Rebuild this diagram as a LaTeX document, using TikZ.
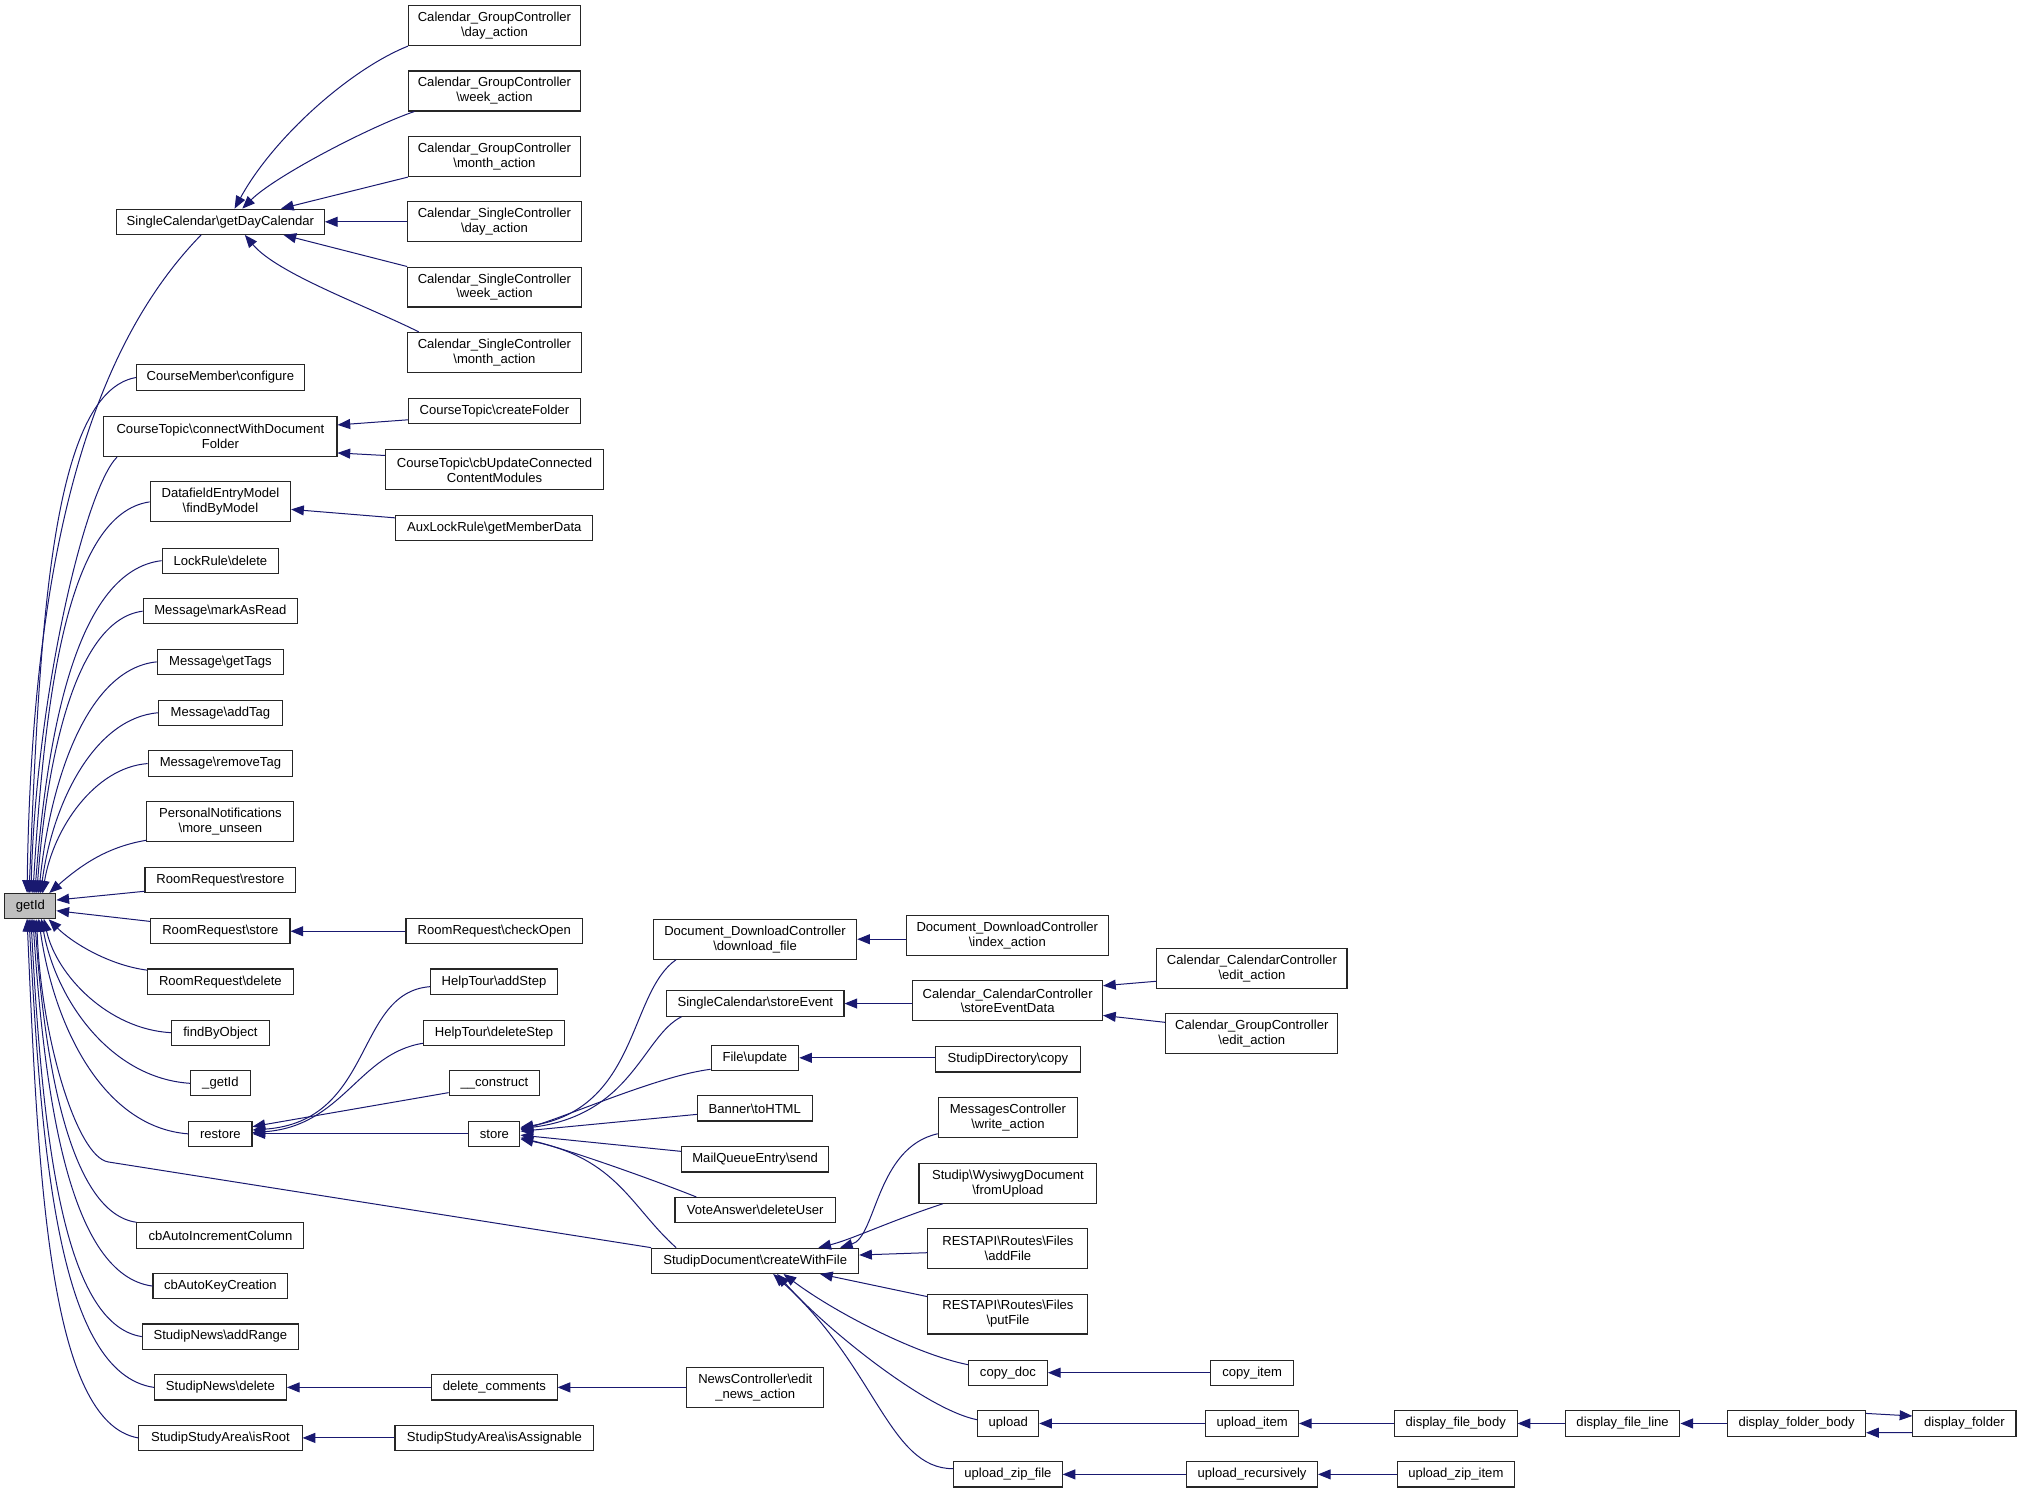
\documentclass[tikz,border=0pt]{standalone}
\usepackage{fontspec}
\setmainfont{Liberation Sans}
\usetikzlibrary{arrows.meta,calc}
\definecolor{callblue}{HTML}{191970}
\tikzset{
  fn/.style={draw=black!85, line width=0.8pt, fill=white, inner sep=0pt,
    align=center, font=\fontsize{9.8}{11.2}\selectfont},
  call/.style={->, draw=callblue, line width=0.75pt},
}

\begin{document}
\begin{tikzpicture}[x=0.9667pt,y=0.9667pt,>={Triangle[length=9.5pt,width=7.5pt]}]
\def\un{0.9667pt}
\useasboundingbox (0,0) rectangle (1568,-1158);
\fill[white] (0,0) rectangle (1568,-1158);
% ================= the called function =================
\node[fn, fill=black!25, minimum width=39.5*\un, minimum height=19.6*\un] (getId) at (23.6,-703) {getId};
% ================= direct callers, plain curve into getId =================
\foreach \nm/\yy/\w/\h/\ex/\txt in {
  cmc/292.9/130.4/19.6/22.5/CourseMember\textbackslash configure,
  dfm/389.4/109/31/25.5/DatafieldEntryModel\\\textbackslash findByModel,
  lrd/435/90.5/19.6/27/LockRule\textbackslash delete,
  mmr/474.2/120/19.6/28.5/Message\textbackslash markAsRead,
  mgt/513.5/98/19.6/30/Message\textbackslash getTags,
  mat/553/96/19.6/31.5/Message\textbackslash addTag,
  mrt/592.4/112/19.6/33/Message\textbackslash removeTag,
  fbo/801.2/76/19.6/34/findByObject,
  gid/840.5/46/19.6/32/\_getId,
  rst/879.7/49/19.6/30/restore,
  cak/997.8/104.6/19.6/25.5/cbAutoKeyCreation,
  sna/1037/121.2/19.6/24/StudipNews\textbackslash addRange,
  snd/1076.4/102.4/19.6/22.5/StudipNews\textbackslash delete,
  sir/1115.6/126.7/19.6/21/StudipStudyArea\textbackslash isRoot}{
  \node[fn, minimum width=\w*\un, minimum height=\h*\un] (\nm) at (171,-\yy) {\txt};
  % enter getId from above or from below
  \pgfmathsetmacro\oy{\yy<703 ? 9.8 : -9.8}
  \pgfmathsetmacro\ddx{171-\w/2-\ex}
  \pgfmathsetmacro\ddy{703-(\oy)-\yy}
  \pgfmathsetmacro\ka{0.4+0.4*min(1,abs(\ddy)/400)}
  \draw[call] (\nm.west) .. controls +({-\ka*\ddx},{-0.03*(\ddy)}) and +({0.1*\ddx},{0.5*(\ddy)})
    .. ($(getId.center)+(\ex-23.6,\oy)$);
}
% direct callers with their own connector
\foreach \nm/\yy/\w/\h/\txt in {
  gdc/172.1/161.3/19.6/SingleCalendar\textbackslash getDayCalendar,
  ctc/338.8/180.9/31/CourseTopic\textbackslash connectWithDocument\\Folder,
  pnm/637.6/114/31/PersonalNotifications\\\textbackslash more\_unseen,
  rrr/683/117/19.6/RoomRequest\textbackslash restore,
  rrs/722.5/108/19.6/RoomRequest\textbackslash store,
  rrd/761.6/113/19.6/RoomRequest\textbackslash delete,
  cai/958.5/129.6/19.6/cbAutoIncrementColumn}{
  \node[fn, minimum width=\w*\un, minimum height=\h*\un] (\nm) at (171,-\yy) {\txt};
}
% ================= deeper callers =================
\foreach \nm/\xx/\yy/\w/\h/\txt in {
  gcd/383.6/19.9/133.4/31/Calendar\_GroupController\\\textbackslash day\_action,
  gcw/383.6/70.6/133.4/31/Calendar\_GroupController\\\textbackslash week\_action,
  gcm/383.6/121.5/133.4/31/Calendar\_GroupController\\\textbackslash month\_action,
  gsd/383.6/172/134.6/31/Calendar\_SingleController\\\textbackslash day\_action,
  gsw/383.6/222.7/134.6/31/Calendar\_SingleController\\\textbackslash week\_action,
  gsm/383.6/273.4/134.6/31/Calendar\_SingleController\\\textbackslash month\_action,
  cfo/383.6/318.9/133.4/19.6/CourseTopic\textbackslash createFolder,
  cbu/383.7/364.6/169.4/31/CourseTopic\textbackslash cbUpdateConnected\\ContentModules,
  alr/383.5/409.9/153/19.6/AuxLockRule\textbackslash getMemberData,
  cko/383.5/722.5/137/19.6/RoomRequest\textbackslash checkOpen,
  has/383.3/761.6/98.5/19.6/HelpTour\textbackslash addStep,
  hds/383.3/801.2/109.5/19.6/HelpTour\textbackslash deleteStep,
  hcn/383.6/840.5/70.2/19.6/\_\_construct,
  sto/383.6/879.7/39.6/19.6/store,
  dcm/383.6/1076.4/97.2/19.6/delete\_comments,
  sia/383.6/1115.6/154.3/19.6/StudipStudyArea\textbackslash isAssignable,
  ddf/585.8/728.7/157.8/31/Document\_DownloadController\\\textbackslash download\_file,
  sce/586/778.6/137.6/19.6/SingleCalendar\textbackslash storeEvent,
  fup/585.7/820.7/68/19.6/File\textbackslash update,
  bth/585.6/859.9/89.2/19.6/Banner\textbackslash toHTML,
  mqs/585.9/899.5/114/19.6/MailQueueEntry\textbackslash send,
  vad/585.9/938.9/124.4/19.6/VoteAnswer\textbackslash deleteUser,
  cwf/585.9/978.2/160.6/19.6/StudipDocument\textbackslash createWithFile,
  nea/586/1076.4/106.3/31/NewsController\textbackslash edit\\\_news\_action,
  idx/781.5/725.5/157/31/Document\_DownloadController\\\textbackslash index\_action,
  sed/781.8/776.5/147.2/31/Calendar\_CalendarController\\\textbackslash storeEventData,
  sdc/782/821.9/112.4/19.6/StudipDirectory\textbackslash copy,
  mwa/782/867.3/108/31/MessagesController\\\textbackslash write\_action,
  wfu/782/918/138/31/Studip\textbackslash WysiwygDocument\\\textbackslash fromUpload,
  afi/782/968.7/124.1/31/RESTAPI\textbackslash Routes\textbackslash Files\\\textbackslash addFile,
  pfi/782/1019.5/124.1/31/RESTAPI\textbackslash Routes\textbackslash Files\\\textbackslash putFile,
  cdc/782/1065/61.2/19.6/copy\_doc,
  upl/782.2/1104.4/47.4/19.6/upload,
  uzf/782/1143.9/84.1/19.6/upload\_zip\_file,
  ced/971.3/751.4/147.5/31/Calendar\_CalendarController\\\textbackslash edit\_action,
  gce/971.2/802.1/133.6/31/Calendar\_GroupController\\\textbackslash edit\_action,
  cit/971.5/1065/64.5/19.6/copy\_item,
  uit/971.5/1104.4/71.8/19.6/upload\_item,
  urc/971.4/1143.9/101.5/19.6/upload\_recursively,
  dfb/1129.4/1104.4/95.2/19.6/display\_file\_body,
  uzi/1129.5/1143.9/90.7/19.6/upload\_zip\_item,
  dfl/1258.9/1104.4/88.9/19.6/display\_file\_line,
  dfo/1393.9/1104.4/107/19.6/display\_folder\_body,
  dfd/1524.1/1104.4/80/19.6/display\_folder}{
  \node[fn, minimum width=\w*\un, minimum height=\h*\un] (\nm) at (\xx,-\yy) {\txt};
}
% ================= connectors =================
% straight, level calls
\foreach \src/\dst in {gsd/gdc, cko/rrs, sto/rst, sia/sir, dcm/snd, nea/dcm, idx/ddf, sed/sce,
  sdc/fup, cit/cdc, uit/upl, urc/uzf, dfb/uit, uzi/urc, dfl/dfb, dfo/dfl}
  \draw[call] (\dst.east -| \src.west) -- (\dst.east);
% straight, slanted calls
\draw[call] (gcm.south west) -- ($(gdc.north)+(47,0)$);
\draw[call] (gsw.north west) -- ($(gdc.south)+(49,0)$);
\draw[call] ($(cfo.south west)+(0,3.4)$) -- ($(ctc.east)+(0,9.1)$);
\draw[call] ($(cbu.north west)+(0,-4.7)$) -- ($(ctc.south east)+(0,3.3)$);
\draw[call] ($(alr.north west)+(0,-2.1)$) -- ($(dfm.east)+(0,-5.8)$);
\draw[call] ($(rrr.south west)+(0,1.7)$) -- ($(getId.east)+(0,4.7)$);
\draw[call] ($(rrs.north west)+(0,-2.6)$) -- ($(getId.east)+(0,-3.6)$);
\draw[call] ($(hcn.south west)+(0,3)$) -- ($(rst.east)+(0,5.6)$);
\draw[call] ($(bth.west)+(0,-4.7)$) -- ($(sto.east)+(0,2)$);
\draw[call] ($(mqs.north west)+(0,-4)$) -- ($(sto.east)+(0,-1)$);
\draw[call] ($(ced.south west)+(0,6)$) -- ($(sed.north east)+(0,-4.2)$);
\draw[call] ($(gce.north west)+(0,-7)$) -- ($(sed.south east)+(0,4.6)$);
\draw[call] ($(afi.west)+(0,-3.2)$) -- ($(cwf.east)+(0,4.5)$);
\draw[call] ($(pfi.north west)+(0,-2.4)$) -- ($(cwf.south)+(50.3,0)$);
\draw[call] ($(dfo.east)+(0,7.8)$) -- ($(dfd.west)+(0,5.8)$);
\draw[call] ($(dfd.west)+(0,-7)$) -- ($(dfo.east)+(0,-7.2)$);
% curved calls into getId
\draw[call] ($(gdc.south)+(-15,0)$) .. controls +(-76,-78) and +(4,290) .. ($(getId.north)+(-2.6,0)$);
\draw[call] ($(ctc.south west)+(10.6,0)$) .. controls +(-25,-25) and +(4,152) .. ($(getId.north)+(0.4,0)$);
\draw[call] ($(pnm.south west)+(0,1.6)$) .. controls +(-30,-5) and +(25,22) .. ($(getId.north east)+(-5.5,0)$);
\draw[call] ($(rrd.north west)+(0,-1.3)$) .. controls +(-30,4) and +(18,-18) .. ($(getId.south east)+(-6,0)$);
\draw[call] (cai.north west) .. controls +(-50,7) and +(8,-118) .. ($(getId.south)+(3.4,0)$);
\coordinate (bend) at (84,-901.5);
\draw[call] (cwf.north west) -- (bend) .. controls +(-24.7,3.9) and +(3,-90) .. ($(getId.south)+(4.9,0)$);
% curved calls into getDayCalendar
\draw[call] (gcd.south west) .. controls +(-45,-18) and +(30,55) .. ($(gdc.north)+(11,0)$);
\draw[call] ($(gcw.south west)+(5,0)$) .. controls +(-35,-12) and +(25,25) .. ($(gdc.north)+(17,0)$);
\draw[call] ($(gsm.north west)+(9,0)$) .. controls +(-40,20) and +(25,-30) .. ($(gdc.south)+(19,0)$);
% curved calls into restore and store
\draw[call] ($(has.west)+(0,-3.9)$) .. controls +(-59,-4.5) and +(95,6.5) .. ($(rst.east)+(0,3)$);
\draw[call] ($(hds.south west)+(0,2)$) .. controls +(-50,-8) and +(70,5) .. ($(rst.east)+(0,1)$);
\draw[call] ($(ddf.south west)+(18,0)$) .. controls +(-36.9,-25.8) and +(91.6,14.7) .. ($(sto.east)+(0,5)$);
\draw[call] ($(sce.south west)+(12,0)$) .. controls +(-30,-15) and +(86.6,10.7) .. ($(sto.east)+(0,4)$);
\draw[call] ($(fup.south west)+(0,1.3)$) .. controls +(-40,-5) and +(40,12) .. ($(sto.east)+(0,3)$);
\draw[call] ($(vad.north west)+(17,0)$) .. controls +(-30,12) and +(40,-10) .. ($(sto.east)+(0,-3)$);
\draw[call] ($(cwf.north west)+(19.4,0)$) .. controls +(-35,31.3) and +(75,-15) .. ($(sto.east)+(0,-4)$);
% curved calls into createWithFile
\draw[call] ($(mwa.south west)+(0,3.6)$) .. controls +(-48,-10.6) and +(28.3,8.4) .. ($(cwf.north)+(65.8,0)$);
\draw[call] ($(wfu.south west)+(19,0)$) .. controls +(-40,-13) and +(25,6) .. ($(cwf.north)+(49,0)$);
\draw[call] ($(cdc.north west)+(0,-4)$) .. controls +(-40,8) and +(40,-30) .. ($(cwf.south)+(22,0)$);
\draw[call] ($(upl.west)+(0,2.9)$) .. controls +(-40,8) and +(37,-42) .. ($(cwf.south)+(17,0)$);
\draw[call] ($(uzf.west)+(0,4.4)$) .. controls +(-50,0) and +(80,-72) .. ($(cwf.south)+(14,0)$);
\end{tikzpicture}
\end{document}
